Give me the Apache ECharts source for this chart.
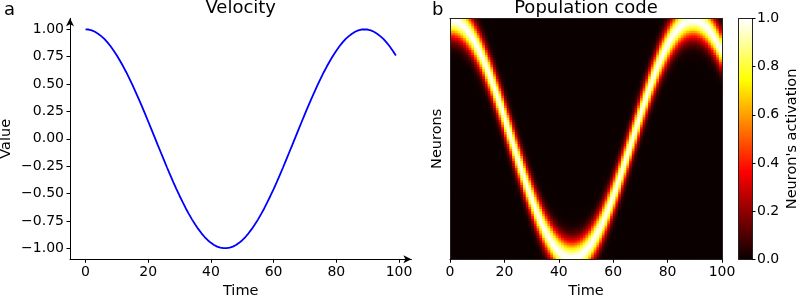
<!DOCTYPE html>
<html><head><meta charset="utf-8">
<script src="https://cdn.jsdelivr.net/npm/echarts@6/dist/echarts.min.js"></script>
<style>html,body{margin:0;padding:0;background:#fff}#c{width:796px;height:295px}</style>
</head><body><div id="c"></div>
<script>
// ---- data ----
const timeSteps = Array.from({length: 100}, (_, i) => i);
const velocity = [
  1.000, 0.998, 0.990, 0.978, 0.960, 0.938, 0.912, 0.880, 0.845, 0.805,
  0.761, 0.713, 0.662, 0.608, 0.550, 0.490, 0.427, 0.362, 0.296, 0.228,
  0.158, 0.088, 0.018, -0.053, -0.123, -0.193, -0.262, -0.329, -0.395, -0.459,
  -0.520, -0.579, -0.636, -0.688, -0.738, -0.783, -0.825, -0.863, -0.897, -0.926,
  -0.950, -0.970, -0.985, -0.994, -0.999, -0.999, -0.994, -0.985, -0.970, -0.950,
  -0.926, -0.897, -0.863, -0.825, -0.783, -0.738, -0.688, -0.636, -0.579, -0.520,
  -0.459, -0.395, -0.329, -0.262, -0.193, -0.123, -0.053, 0.018, 0.088, 0.158,
  0.228, 0.296, 0.362, 0.427, 0.490, 0.550, 0.608, 0.662, 0.713, 0.761,
  0.805, 0.845, 0.880, 0.912, 0.938, 0.960, 0.978, 0.990, 0.998, 1.000,
  0.998, 0.990, 0.978, 0.960, 0.938, 0.912, 0.880, 0.845, 0.805, 0.761
];
const timeTicksA = [0, 20, 40, 60, 80, 100];
const valueTicksA = [-1, -0.75, -0.5, -0.25, 0, 0.25, 0.5, 0.75, 1];
const neuronCount = 100;          // neurons spanning preferred velocities -1 .. 1
const tuningWidth = 0.1;          // gaussian tuning width of each neuron
const colorbarTicks = [0, 0.2, 0.4, 0.6, 0.8, 1.0];

// preferred velocity of each neuron (bottom = -1, top = +1)
const preferred = Array.from({length: neuronCount}, (_, j) => -1 + 2 * j / (neuronCount - 1));
const neuronIds = preferred.map((_, j) => j);
// population activation derived from the velocity trace
const heat = [];
timeSteps.forEach((t, i) => {
  preferred.forEach((p, j) => {
    const d = velocity[i] - p;
    heat.push([i, j, Math.exp(-d * d / (2 * tuningWidth * tuningWidth))]);
  });
});
// colorbar levels
const levels = Array.from({length: 256}, (_, k) => k / 255);
const cbData = levels.map((v, k) => [0, k, v]);

// matplotlib "hot" colormap
function hot(x) {
  const r = x < 0.365079 ? 0.0416 + (1 - 0.0416) * x / 0.365079 : 1;
  const g = x < 0.365079 ? 0 : (x < 0.746032 ? (x - 0.365079) / (0.746032 - 0.365079) : 1);
  const b = x < 0.746032 ? 0 : (x - 0.746032) / (1 - 0.746032);
  const h = v => Math.round(Math.min(1, Math.max(0, v)) * 255).toString(16).padStart(2, '0');
  return '#' + h(r) + h(g) + h(b);
}
const hotColors = Array.from({length: 129}, (_, k) => hot(k / 128));

const FONT = 'DejaVu Sans';
const fmt2 = v => (v < 0 ? '\u2212' : '') + Math.abs(v).toFixed(2);
const frameLine = {show: true, onZero: false, lineStyle: {color: '#222', width: 1}};
const off = {show: false};

// cell renderer (through the axes' own scales)
function cell(params, api) {
  const c = api.coord([api.value(0), api.value(1)]);
  const s = api.size([1, 1]);
  return {
    type: 'rect',
    shape: {x: c[0] - s[0] / 2 - 0.4, y: c[1] - s[1] / 2 - 0.4, width: s[0] + 0.8, height: s[1] + 0.8},
    style: {fill: api.visual('color')},
    silent: true
  };
}

const chart = echarts.init(document.getElementById('c'), null, {renderer: 'canvas'});
chart.setOption({
  animation: false,
  textStyle: {fontFamily: FONT, color: '#000'},
  grid: [
    {left: 70, top: 18.35, width: 341.4, height: 240.9, containLabel: false, outerBoundsMode: 'none'},
    {left: 450, top: 18.35, width: 272, height: 240.9, containLabel: false, outerBoundsMode: 'none'},
    {left: 738.7, top: 18.6, width: 13.3, height: 240.6, containLabel: false, outerBoundsMode: 'none'}
  ],
  graphic: [
    {type: 'text', x: 4, y: 10.5, style: {text: 'a', font: '18px "DejaVu Sans"', fill: '#000', textVerticalAlign: 'middle'}},
    {type: 'text', x: 432, y: 10, style: {text: 'b', font: '18px "DejaVu Sans"', fill: '#000', textVerticalAlign: 'middle'}},
    {type: 'text', x: 240.7, y: 8.5, style: {text: 'Velocity', font: '18px "DejaVu Sans"', fill: '#000', textAlign: 'center', textVerticalAlign: 'middle'}},
    {type: 'text', x: 586, y: 8.5, style: {text: 'Population code', font: '18px "DejaVu Sans"', fill: '#000', textAlign: 'center', textVerticalAlign: 'middle'}}
  ],
  visualMap: {
    show: false, type: 'continuous', min: 0, max: 1, seriesIndex: [1, 2], dimension: 2,
    inRange: {color: hotColors}
  },
  xAxis: [
    {gridIndex: 0, type: 'value', min: -4.95, max: 103.95, position: 'bottom',
     name: 'Time', nameLocation: 'middle', nameGap: 21, nameTextStyle: {fontSize: 14.5, fontFamily: FONT, color: '#000'},
     axisLine: {show: true, onZero: false, symbol: ['none', 'arrow'], symbolSize: [6, 8], lineStyle: {color: '#000', width: 1}},
     axisTick: {show: true, length: 3.5, customValues: timeTicksA, lineStyle: {color: '#000'}},
     axisLabel: {customValues: timeTicksA, margin: 6, fontSize: 14, color: '#000', fontFamily: FONT},
     splitLine: off},
    {gridIndex: 1, type: 'category', data: timeSteps, position: 'bottom', show: false},
    {gridIndex: 1, type: 'value', min: 0, max: 100, interval: 20, position: 'bottom', z: 10,
     name: 'Time', nameLocation: 'middle', nameGap: 21, nameTextStyle: {fontSize: 14.5, fontFamily: FONT, color: '#000'},
     axisLine: frameLine,
     axisTick: {show: true, length: 3.5, lineStyle: {color: '#000'}},
     axisLabel: {margin: 6, fontSize: 14, color: '#000', fontFamily: FONT},
     splitLine: off},
    {gridIndex: 1, type: 'value', min: 0, max: 100, position: 'top', z: 10,
     axisLine: frameLine, axisTick: off, axisLabel: off, splitLine: off},
    {gridIndex: 2, type: 'category', data: ['cb'], position: 'bottom', show: false},
    {gridIndex: 2, type: 'value', min: 0, max: 1, position: 'bottom', z: 10,
     axisLine: frameLine, axisTick: off, axisLabel: off, splitLine: off},
    {gridIndex: 2, type: 'value', min: 0, max: 1, position: 'top', z: 10,
     axisLine: frameLine, axisTick: off, axisLabel: off, splitLine: off}
  ],
  yAxis: [
    {gridIndex: 0, type: 'value', min: -1.1, max: 1.1, position: 'left',
     name: 'Value', nameLocation: 'middle', nameGap: 56, nameTextStyle: {fontSize: 14.5, fontFamily: FONT, color: '#000'},
     axisLine: {show: true, onZero: false, symbol: ['none', 'arrow'], symbolSize: [6, 8], lineStyle: {color: '#000', width: 1}},
     axisTick: {show: true, length: 3.5, customValues: valueTicksA, lineStyle: {color: '#000'}},
     axisLabel: {customValues: valueTicksA, formatter: fmt2, margin: 6, fontSize: 14, color: '#000', fontFamily: FONT},
     splitLine: off},
    {gridIndex: 1, type: 'category', data: neuronIds, position: 'left', show: false},
    {gridIndex: 1, type: 'value', min: 0, max: 1, position: 'left', z: 10,
     name: 'Neurons', nameLocation: 'middle', nameGap: 5, nameTextStyle: {fontSize: 14.5, fontFamily: FONT, color: '#000'},
     axisLine: frameLine, axisTick: off, axisLabel: off, splitLine: off},
    {gridIndex: 1, type: 'value', min: 0, max: 1, position: 'right', z: 10,
     axisLine: frameLine, axisTick: off, axisLabel: off, splitLine: off},
    {gridIndex: 2, type: 'category', data: levels.map((_, k) => k), position: 'left', show: false},
    {gridIndex: 2, type: 'value', min: 0, max: 1, interval: 0.2, position: 'right', z: 10,
     name: "Neuron's activation", nameLocation: 'middle', nameRotate: 90, nameGap: 33,
     nameTextStyle: {fontSize: 14.5, fontFamily: FONT, color: '#000'},
     axisLine: frameLine,
     axisTick: {show: true, length: 3.5, lineStyle: {color: '#000'}},
     axisLabel: {formatter: v => v.toFixed(1), margin: 5, fontSize: 14, color: '#000', fontFamily: FONT},
     splitLine: off},
    {gridIndex: 2, type: 'value', min: 0, max: 1, position: 'left', z: 10,
     axisLine: frameLine, axisTick: off, axisLabel: off, splitLine: off}
  ],
  series: [
    {type: 'line', xAxisIndex: 0, yAxisIndex: 0, data: timeSteps.map((t, i) => [t, velocity[i]]),
     showSymbol: false, symbol: 'none', lineStyle: {color: '#0000ff', width: 1.8}, silent: true},
    {type: 'custom', xAxisIndex: 1, yAxisIndex: 1, data: heat, renderItem: cell, progressive: 0, silent: true,
     encode: {x: 0, y: 1}, clip: true},
    {type: 'custom', xAxisIndex: 4, yAxisIndex: 4, data: cbData, renderItem: cell, progressive: 0, silent: true,
     encode: {x: 0, y: 1}, clip: true}
  ]
});
</script></body></html>
